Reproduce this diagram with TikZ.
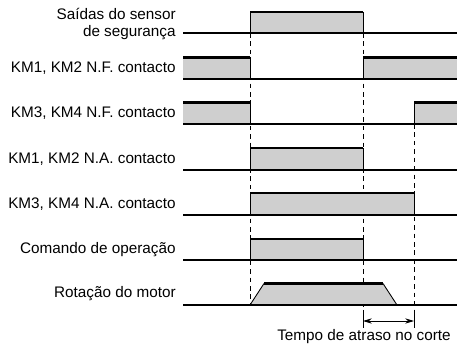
\documentclass[tikz,border=0pt]{standalone}
\usepackage{fontspec}
\setmainfont{Liberation Sans}
\usetikzlibrary{arrows.meta, positioning}

\begin{document}
\begin{tikzpicture}[x=0.02cm, y=-0.02cm,
    lbl/.style={anchor=east, font=\fontsize{8.7}{9.4}\selectfont, inner sep=0pt, align=right},
    sig/.style={line width=0.6pt},
    edge/.style={line width=0.5pt},
    hi/.style={line width=1.6pt},
    pulse/.style={fill=black!19},
    guide/.style={line width=0.45pt, dash pattern=on 2.6pt off 2.2pt}]
        \useasboundingbox (0,0) rectangle (457,348);

        % Time marks
        \coordinate (t1) at (250,0);
        \coordinate (t2) at (363,0);
        \coordinate (t3) at (414,0);

        % Guide lines
        \draw[guide] (250,33) -- (250,305);
        \draw[guide] (363,33) -- (363,311);
        \draw[guide] (414,124) -- (414,311);

        % Saidas do sensor
        \node[lbl] (sensor) at (176,24) {Saídas do sensor\\de segurança};
        \fill[pulse] (250,12) rectangle (363,33);
        \draw[edge] (250,33) -- (250,12) (363,12) -- (363,33);
        \draw[hi] (250,12) -- (363,12);
        \draw[sig] (183,33) -- (457,33);

        % KM1, KM2 N.F.
        \node[lbl] (km12nf) at (176,68) {KM1, KM2 N.F. contacto};
        \fill[pulse] (183,57.5) rectangle (250,79);
        \fill[pulse] (363,57.5) rectangle (457,79);
        \draw[edge] (250,57.5) -- (250,79) (363,79) -- (363,57.5);
        \draw[hi] (183,57.5) -- (250,57.5) (363,57.5) -- (457,57.5);
        \draw[sig] (183,79) -- (457,79);

        % KM3, KM4 N.F.
        \node[lbl] (km34nf) at (176,113) {KM3, KM4 N.F. contacto};
        \fill[pulse] (183,102.5) rectangle (250,124);
        \fill[pulse] (414,102.5) rectangle (457,124);
        \draw[edge] (250,102.5) -- (250,124) (414,124) -- (414,102.5);
        \draw[hi] (183,102.5) -- (250,102.5) (414,102.5) -- (457,102.5);
        \draw[sig] (183,124) -- (457,124);

        % KM1, KM2 N.A.
        \node[lbl] (km12na) at (176,159) {KM1, KM2 N.A. contacto};
        \fill[pulse] (250,148) rectangle (363,170);
        \draw[edge] (250,170) -- (250,148) (363,148) -- (363,170);
        \draw[hi] (250,148) -- (363,148);
        \draw[sig] (183,170) -- (457,170);

        % KM3, KM4 N.A.
        \node[lbl] (km34na) at (176,204) {KM3, KM4 N.A. contacto};
        \fill[pulse] (250,193) rectangle (414,215);
        \draw[edge] (250,215) -- (250,193) (414,193) -- (414,215);
        \draw[hi] (250,193) -- (414,193);
        \draw[sig] (183,215) -- (457,215);

        % Comando de operacao
        \node[lbl] (cmd) at (176,250) {Comando de operação};
        \fill[pulse] (250,239) rectangle (363,260);
        \draw[edge] (250,260) -- (250,239) (363,239) -- (363,260);
        \draw[hi] (250,239) -- (363,239);
        \draw[sig] (183,260) -- (457,260);

        % Rotacao do motor
        \node[lbl] (motor) at (176,294) {Rotação do motor};
        \fill[pulse] (250,305) -- (264,283.5) -- (383,283.5) -- (397,305) -- cycle;
        \draw[edge] (250,305) -- (264,283.5) (383,283.5) -- (397,305);
        \draw[hi] (264,283.5) -- (383,283.5);
        \draw[sig] (183,305) -- (457,305);

        % Tempo de atraso
        \coordinate (d1) at (363,321);
        \coordinate (d2) at (414,321);
        \draw[edge] (363,310) -- (363,328) (414,310) -- (414,328);
        \draw[edge, {Stealth[length=5pt, width=3pt]}-{Stealth[length=5pt, width=3pt]}] (d1) -- (d2);
        \node[lbl, anchor=center] (delay) at (364,337) {Tempo de atraso no corte};

    \end{tikzpicture}
\end{document}
